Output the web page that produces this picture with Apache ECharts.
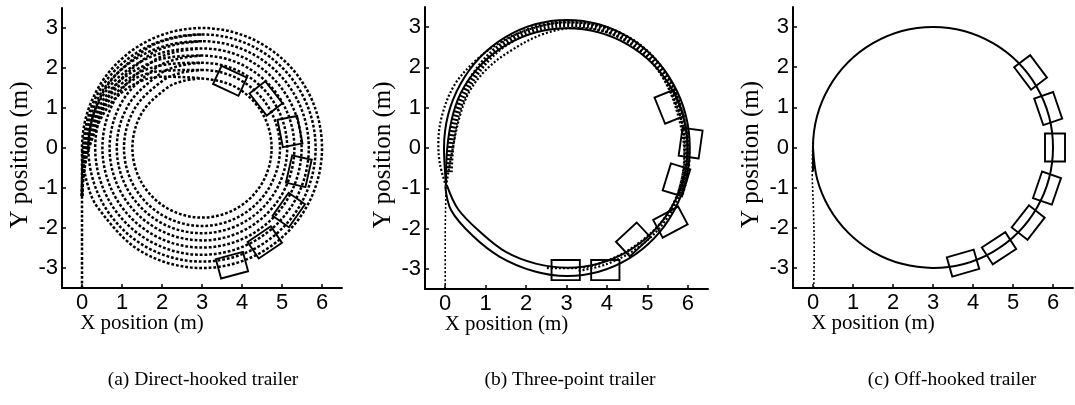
<!DOCTYPE html>
<html>
<head>
<meta charset="utf-8">
<title>Trailer trajectories</title>
<script src="https://cdn.jsdelivr.net/npm/echarts@6.0.0/dist/echarts.min.js"></script>
<style>
  html, body { margin: 0; padding: 0; background: #fff; }
  #chart { width: 1075px; height: 405px; }
</style>
</head>
<body>
<div id="chart"></div>
<script>
// ---- tick values ----
const xTicks = [0, 1, 2, 3, 4, 5, 6];
const yTicks = [-3, -2, -1, 0, 1, 2, 3];

// ---- (a) direct-hooked trailer: tractor path, then trailers 1..7 (x, y in m) ----
const pathA0 = [[0,-3.5],[0,-2.3],[0,-1.2],[0,0],[0.402,1.5],[1.5,2.598],[3,3],[4.5,2.598],[5.598,1.5],[6,0],[5.598,-1.5],[4.5,-2.598],[3,-3],[1.5,-2.598],[0.402,-1.5],[0.102,-0.776],[0,0]];
const pathA1 = [[0,-1.2],[0.025,0],[0.457,1.468],[1.56,2.494],[3,2.84],[4.42,2.459],[5.459,1.42],[5.84,0],[5.459,-1.42],[4.42,-2.459],[3,-2.84],[1.58,-2.459],[0.541,-1.42],[0.16,0],[0.541,1.42],[1.58,2.459],[2.265,2.743],[3,2.84]];
const pathA2 = [[0,-1.2],[0.05,0],[0.516,1.434],[1.624,2.384],[3,2.67],[4.335,2.312],[5.312,1.335],[5.67,0],[5.312,-1.335],[4.335,-2.312],[3,-2.67],[1.665,-2.312],[0.688,-1.335],[0.33,0],[0.688,1.335],[1.665,2.312],[2.308,2.579],[3,2.67]];
const pathA3 = [[0,-1.2],[0.075,0],[0.579,1.398],[1.691,2.267],[3,2.49],[4.245,2.156],[5.156,1.245],[5.49,0],[5.156,-1.245],[4.245,-2.156],[3,-2.49],[1.755,-2.156],[0.844,-1.245],[0.51,0],[0.844,1.245],[1.755,2.156],[2.355,2.405],[3,2.49]];
const pathA4 = [[0,-1.2],[0.1,0],[0.641,1.362],[1.759,2.15],[3,2.31],[4.155,2.0],[5.0,1.155],[5.31,0],[5.0,-1.155],[4.155,-2.0],[3,-2.31],[1.845,-2.0],[1.0,-1.155],[0.69,0],[1.0,1.155],[1.845,2.0],[2.402,2.231],[3,2.31]];
const pathA5 = [[0,-1.2],[0.125,0],[0.703,1.326],[1.826,2.033],[3,2.13],[4.065,1.845],[4.845,1.065],[5.13,0],[4.845,-1.065],[4.065,-1.845],[3,-2.13],[1.935,-1.845],[1.155,-1.065],[0.87,0],[1.155,1.065],[1.935,1.845],[2.448,2.058],[3,2.13]];
const pathA6 = [[0,-1.2],[0.15,0],[0.766,1.29],[1.894,1.916],[3,1.95],[3.975,1.689],[4.689,0.975],[4.95,0],[4.689,-0.975],[3.975,-1.689],[3,-1.95],[2.025,-1.689],[1.311,-0.975],[1.05,0],[1.311,0.975],[2.025,1.689],[2.495,1.884],[3,1.95]];
const pathA7 = [[0,-1.2],[0.175,0],[0.838,1.248],[1.973,1.78],[3,1.74],[3.87,1.507],[4.507,0.87],[4.74,0],[4.507,-0.87],[3.87,-1.507],[3,-1.74],[2.13,-1.507],[1.493,-0.87],[1.26,0],[1.493,0.87],[2.13,1.507],[2.549,1.681],[3,1.74]];
// trailer bodies: centre x, centre y, heading (deg)
const posesA = [[3.70,1.68,-25],[4.60,1.24,-52],[5.20,0.41,-79],[5.42,-0.58,-103],[5.17,-1.55,-125],[4.57,-2.36,-146],[3.75,-2.93,-165]];

// ---- (b) three-point trailer ----
const pathB0 = [[0,-3.5],[0,-2.2],[0.02,-0.95]];
const pathB1 = [[0.02,-0.92],[0.05,0],[0.448,1.485],[1.535,2.572],[3.02,2.97],[4.505,2.572],[5.592,1.485],[5.99,0],[5.592,-1.485],[4.505,-2.572],[3.02,-2.97],[2.24,-2.87],[1.5,-2.58],[0.86,-2.08],[0.32,-1.52],[0.04,-0.92]];
const pathB2 = [[0.02,-0.92],[-0.03,0],[0.377,1.59],[1.49,2.754],[3.01,3.18],[4.53,2.754],[5.643,1.59],[6.05,0],[5.643,-1.59],[4.53,-2.754],[3.01,-3.18],[2.2,-3.06],[1.35,-2.7],[0.68,-2.18],[0.15,-1.55],[0.0,-0.95]];
const pathB3 = [[0.02,-0.95],[-0.13,-0.4],[-0.17,0.1],[-0.08,0.8],[0.22,1.55],[0.7,2.12],[1.25,2.55],[2.0,2.92],[3.0,3.12],[4.0,2.98],[4.9,2.5],[5.55,1.7],[5.92,0.7],[6.0,-0.2],[5.85,-1.0],[5.45,-1.8],[4.8,-2.45],[4.0,-2.88],[3.3,-3.05]];
const pathB4 = [[0.02,-0.95],[0.15,-0.2],[0.35,0.75],[0.593,1.39],[1.034,1.966],[1.61,2.407],[2.4,2.82],[3.2,2.98],[4.2,2.8],[5.1,2.15],[5.7,1.1],[5.92,0.1],[5.82,-0.9],[5.45,-1.7],[4.8,-2.35],[4.0,-2.8],[3.2,-2.98],[2.5,-2.98]];
const pathB5 = [[0.1,-0.6],[0.16,0.2],[0.33,1.0],[0.72,1.8],[1.35,2.5],[2.2,2.95],[3.0,3.08],[3.9,2.97],[4.8,2.5],[5.45,1.75],[5.85,0.7],[5.98,-0.3],[5.8,-1.2]];
const posesB = [[5.54,1.02,-68],[6.07,0.12,-98],[5.72,-0.79,-107],[5.57,-1.84,-152],[4.65,-2.27,-137],[3.96,-3.03,180],[2.98,-3.03,180]];

// ---- (c) off-hooked trailer ----
const pathC0 = [[0.02,-3.5],[0.03,-2.5],[0.01,-1.5],[-0.02,-0.6],[0,0.2]];
const pathC1 = [[0,-0.6],[0,0],[0.402,1.5],[1.5,2.598],[3,3],[4.5,2.598],[5.598,1.5],[6,0],[5.598,-1.5],[4.5,-2.598],[3,-3],[2.224,-2.898],[1.5,-2.598],[0.879,-2.121],[0.402,-1.5],[0.102,-0.776],[0,0]];
const posesC = [[5.44,1.87,-53],[5.88,0.97,-71],[6.05,0.0,-90],[5.85,-1.01,-109],[5.38,-1.87,-128],[4.65,-2.51,-147],[3.75,-2.88,-164]];

const captions = ['(a) Direct-hooked trailer', '(b) Three-point trailer', '(c) Off-hooked trailer'];

// trailer body size (m)
const BODY_LEN = 0.7;
const BODY_WID = 0.5;

const grids = [
  { left: 62, top: 8, width: 280, height: 280 },
  { left: 425, top: 7, width: 283, height: 282 },
  { left: 793, top: 7, width: 280, height: 281 }
];
const captionX = [203, 570, 952];

const BLACK = '#000';

function makeXAxis(i) {
  return {
    type: 'value', gridIndex: i, min: -0.5, max: 6.5,
    axisLine: { show: true, onZero: false, lineStyle: { color: BLACK, width: 2 } },
    axisTick: { show: true, inside: true, length: 4, customValues: xTicks, lineStyle: { color: BLACK, width: 1.5 } },
    axisLabel: { customValues: xTicks, color: BLACK, fontFamily: 'Liberation Sans', fontSize: 22, margin: 4 },
    splitLine: { show: false },
    name: 'X position (m)', nameLocation: 'middle', nameGap: 25, nameMoveOverlap: false,
    nameTextStyle: { fontFamily: 'Liberation Serif', fontSize: 21, color: BLACK, padding: [0, 120, 0, 0] }
  };
}
function makeYAxis(i) {
  return {
    type: 'value', gridIndex: i, min: -3.5, max: 3.5,
    axisLine: { show: true, onZero: false, lineStyle: { color: BLACK, width: 2 } },
    axisTick: { show: true, inside: true, length: 4, customValues: yTicks, lineStyle: { color: BLACK, width: 1.5 } },
    axisLabel: { customValues: yTicks, color: BLACK, fontFamily: 'Liberation Sans', fontSize: 22, margin: 4 },
    splitLine: { show: false },
    name: 'Y position (m)', nameLocation: 'middle', nameGap: 29, nameMoveOverlap: false,
    nameTextStyle: { fontFamily: 'Liberation Serif', fontSize: 25, color: BLACK, padding: [0, 14, 0, 0] }
  };
}

function pathSeries(i, data, width, dash) {
  return {
    type: 'line', xAxisIndex: i, yAxisIndex: i, data: data,
    showSymbol: false, symbol: 'none', smooth: 0.35, silent: true,
    lineStyle: { color: BLACK, width: width, type: dash || 'solid', cap: 'butt' },
    z: 2
  };
}

function renderTrailer(params, api) {
  const cx = api.value(0), cy = api.value(1);
  const h = api.value(2) * Math.PI / 180;
  const ux = Math.cos(h), uy = Math.sin(h);
  const nx = -uy, ny = ux;
  const hl = BODY_LEN / 2, hw = BODY_WID / 2;
  const corners = [[hl, hw], [hl, -hw], [-hl, -hw], [-hl, hw]].map(function (c) {
    return api.coord([cx + c[0] * ux + c[1] * nx, cy + c[0] * uy + c[1] * ny]);
  });
  return {
    type: 'polygon', shape: { points: corners },
    style: { fill: 'none', stroke: BLACK, lineWidth: 1.9 }
  };
}

function trailerSeries(i, data) {
  return {
    type: 'custom', xAxisIndex: i, yAxisIndex: i, data: data,
    encode: { x: 0, y: 1 }, renderItem: renderTrailer, silent: true, clip: false, z: 5
  };
}

const DOT_A = [2.8, 1.9];
const DOT_THIN = [2, 2];
const LADDER = [2, 2];

const series = [
  pathSeries(0, pathA0, 2.5, DOT_A),
  pathSeries(0, pathA1, 2.5, DOT_A),
  pathSeries(0, pathA2, 2.5, DOT_A),
  pathSeries(0, pathA3, 2.5, DOT_A),
  pathSeries(0, pathA4, 2.5, DOT_A),
  pathSeries(0, pathA5, 2.5, DOT_A),
  pathSeries(0, pathA6, 2.5, DOT_A),
  pathSeries(0, pathA7, 2.5, DOT_A),
  trailerSeries(0, posesA),

  pathSeries(1, pathB0, 1.6, DOT_THIN),
  pathSeries(1, pathB1, 2),
  pathSeries(1, pathB2, 2),
  pathSeries(1, pathB3, 2.2, DOT_THIN),
  pathSeries(1, pathB4, 2.2, DOT_THIN),
  pathSeries(1, pathB5, 7, LADDER),
  trailerSeries(1, posesB),

  pathSeries(2, pathC0, 1.6, DOT_THIN),
  pathSeries(2, pathC1, 2),
  trailerSeries(2, posesC)
];

const chart = echarts.init(document.getElementById('chart'), null, { renderer: 'canvas' });
chart.setOption({
  backgroundColor: '#fff',
  animation: false,
  grid: grids.map(function (g) { return Object.assign({ containLabel: false, outerBoundsMode: 'none' }, g); }),
  xAxis: [0, 1, 2].map(makeXAxis),
  yAxis: [0, 1, 2].map(makeYAxis),
  series: series,
  graphic: captions.map(function (t, i) {
    return {
      type: 'text', x: captionX[i], y: 380, silent: true,
      style: { text: t, fontFamily: 'Liberation Serif', fontSize: 19.5, fill: BLACK, align: 'center', verticalAlign: 'middle' }
    };
  })
});
</script>
</body>
</html>
